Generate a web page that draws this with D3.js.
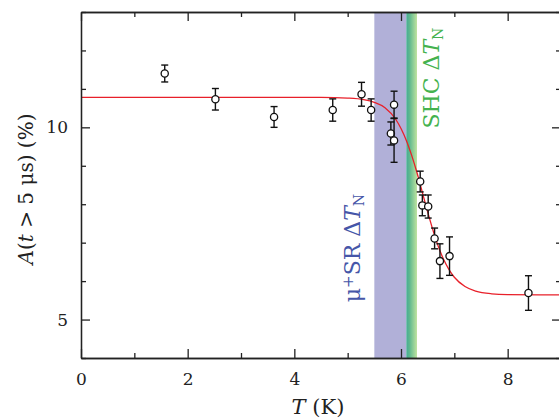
<!DOCTYPE html>
<html>
  <head>
    <meta charset="utf-8">
    <title>Asymmetry vs temperature</title>
    <script src="https://d3js.org/d3.v7.min.js"></script>
    <style>
      body { margin: 0; background: #fff; }
      svg text { font-family: "DejaVu Serif", "Liberation Serif", "Times New Roman", serif !important; }
      .axis path, .axis line { stroke: #222; stroke-width: 1.3; }
      .axis text { font-size: 17px; fill: #222; }
    </style>
  </head>
  <body>
    <div id="chart"></div>
    <script>
      // measured points: temperature (K), asymmetry (%), error (%)
      var temps = [1.57, 2.52, 3.62, 4.72, 5.26, 5.44, 5.87, 5.81, 5.87, 6.36, 6.40, 6.51, 6.63, 6.73, 6.91, 8.39];
      var asym  = [11.40, 10.73, 10.27, 10.45, 10.86, 10.45, 10.59, 9.84, 9.66, 8.59, 7.97, 7.94, 7.11, 6.52, 6.65, 5.69];
      var errs  = [0.22, 0.28, 0.27, 0.29, 0.31, 0.29, 0.35, 0.30, 0.57, 0.27, 0.27, 0.30, 0.27, 0.45, 0.50, 0.45];

      // fit curve
      var fitT = [0, 4.5, 5.0, 5.3, 5.5, 5.7, 5.9, 6.0, 6.1, 6.2, 6.3, 6.4, 6.5, 6.6, 6.7, 6.8, 6.9, 7.0, 7.2, 7.4, 7.7, 8.0, 9.0];
      var fitA = [10.78, 10.78, 10.76, 10.72, 10.65, 10.51, 10.21, 9.97, 9.66, 9.27, 8.82, 8.31, 7.80, 7.32, 6.90, 6.56, 6.30, 6.10, 5.86, 5.74, 5.67, 5.65, 5.64];

      // transition ranges (K)
      var muSRRange = [5.5, 6.1];
      var shcRange = [6.1, 6.3];

      var xMajor = [0, 2, 4, 6, 8];
      var xMinor = [1, 3, 5, 7, 9];
      var yMajor = [5, 10];
      var yMinor = [4, 6, 7, 8, 9, 11, 12, 13];

      var margin = { top: 12, right: 0, bottom: 60, left: 81 },
          width = 480,
          height = 346;

      var svg = d3.select("#chart")
                  .append("svg")
                  .attr("width", 559)
                  .attr("height", 418)
                  .append("g")
                  .attr("transform", "translate(" + margin.left + "," + margin.top + ")");

      var x = d3.scaleLinear().domain([0, 9]).range([0, width]);
      var y = d3.scaleLinear().domain([4, 13]).range([height, 0]);

      var defs = svg.append("defs");
      defs.append("clipPath").attr("id", "clip")
          .append("rect").attr("width", width).attr("height", height);
      var grad = defs.append("linearGradient").attr("id", "shc")
          .attr("x1", "0%").attr("x2", "100%");
      grad.append("stop").attr("offset", "0%").attr("stop-color", "#45ab95");
      grad.append("stop").attr("offset", "30%").attr("stop-color", "#5db88e");
      grad.append("stop").attr("offset", "100%").attr("stop-color", "#bfe3a0");

      var plot = svg.append("g").attr("clip-path", "url(#clip)");

      // transition bands
      plot.append("rect")
          .attr("x", x(muSRRange[0]))
          .attr("width", x(muSRRange[1]) - x(muSRRange[0]))
          .attr("y", 0).attr("height", height)
          .attr("fill", "#b1b0d8");
      plot.append("rect")
          .attr("x", x(shcRange[0]))
          .attr("width", x(shcRange[1]) - x(shcRange[0]))
          .attr("y", 0).attr("height", height)
          .attr("fill", "url(#shc)");

      // band labels
      var lab1 = svg.append("text")
          .attr("transform", "translate(" + (x(5.5) - 14) + "," + y(6.86) + ") rotate(-90)")
          .attr("text-anchor", "middle")
          .attr("fill", "#4656a8")
          .style("font-size", "22px");
      lab1.append("tspan").text("\u03bc");
      lab1.append("tspan").attr("baseline-shift", "45%").style("font-size", "15px").text("+");
      lab1.append("tspan").text("SR \u0394");
      lab1.append("tspan").style("font-style", "italic").text("T");
      lab1.append("tspan").attr("baseline-shift", "-25%").style("font-size", "14px").text("N");

      var lab2 = svg.append("text")
          .attr("transform", "translate(" + (x(6.3) + 22) + "," + y(11.28) + ") rotate(-90)")
          .attr("text-anchor", "middle")
          .attr("fill", "#44b24e")
          .style("font-size", "22px");
      lab2.append("tspan").text("SHC \u0394");
      lab2.append("tspan").style("font-style", "italic").text("T");
      lab2.append("tspan").attr("baseline-shift", "-25%").style("font-size", "14px").text("N");

      // fit curve
      var line = d3.line()
          .x(function(d, i) { return x(fitT[i]); })
          .y(function(d, i) { return y(fitA[i]); })
          .curve(d3.curveMonotoneX);
      plot.append("path")
          .datum(fitT)
          .attr("d", line)
          .attr("fill", "none")
          .attr("stroke", "#e8202a")
          .attr("stroke-width", 1.3);

      // error bars and points
      var pts = plot.selectAll(".pt")
          .data(temps)
          .enter()
          .append("g")
          .attr("class", "pt");
      pts.append("line")
         .attr("x1", function(d) { return x(d); })
         .attr("x2", function(d) { return x(d); })
         .attr("y1", function(d, i) { return y(asym[i] - errs[i]); })
         .attr("y2", function(d, i) { return y(asym[i] + errs[i]); });
      pts.append("line")
         .attr("x1", function(d) { return x(d) - 3.5; })
         .attr("x2", function(d) { return x(d) + 3.5; })
         .attr("y1", function(d, i) { return y(asym[i] - errs[i]); })
         .attr("y2", function(d, i) { return y(asym[i] - errs[i]); });
      pts.append("line")
         .attr("x1", function(d) { return x(d) - 3.5; })
         .attr("x2", function(d) { return x(d) + 3.5; })
         .attr("y1", function(d, i) { return y(asym[i] + errs[i]); })
         .attr("y2", function(d, i) { return y(asym[i] + errs[i]); });
      pts.selectAll("line")
         .attr("stroke", "#111")
         .attr("stroke-width", 1.4);
      pts.append("circle")
         .attr("cx", function(d) { return x(d); })
         .attr("cy", function(d, i) { return y(asym[i]); })
         .attr("r", 3.6)
         .attr("fill", "#fff")
         .attr("stroke", "#111")
         .attr("stroke-width", 1.3);

      // axes
      svg.append("g").attr("class", "axis")
         .attr("transform", "translate(0," + height + ")")
         .call(d3.axisBottom(x).tickValues(xMajor).tickSize(-9).tickSizeOuter(0).tickPadding(15).tickFormat(d3.format("d")));
      svg.append("g").attr("class", "axis")
         .attr("transform", "translate(0," + height + ")")
         .call(d3.axisBottom(x).tickValues(xMinor).tickSize(-5).tickSizeOuter(0).tickFormat(""));
      svg.append("g").attr("class", "axis")
         .call(d3.axisTop(x).tickValues(xMajor).tickSize(-9).tickSizeOuter(0).tickFormat(""));
      svg.append("g").attr("class", "axis")
         .call(d3.axisTop(x).tickValues(xMinor).tickSize(-5).tickSizeOuter(0).tickFormat(""));
      svg.append("g").attr("class", "axis")
         .call(d3.axisLeft(y).tickValues(yMajor).tickSize(-9).tickSizeOuter(0).tickPadding(13).tickFormat(d3.format("d")));
      svg.append("g").attr("class", "axis")
         .call(d3.axisLeft(y).tickValues(yMinor).tickSize(-5).tickSizeOuter(0).tickFormat(""));
      svg.append("g").attr("class", "axis")
         .attr("transform", "translate(" + width + ",0)")
         .call(d3.axisRight(y).tickValues(yMajor).tickSize(-9).tickSizeOuter(0).tickFormat(""));
      svg.append("g").attr("class", "axis")
         .attr("transform", "translate(" + width + ",0)")
         .call(d3.axisRight(y).tickValues(yMinor).tickSize(-5).tickSizeOuter(0).tickFormat(""));

      // axis labels
      var xl = svg.append("text")
         .attr("x", width * 0.5 - 3)
         .attr("y", height + 56)
         .attr("text-anchor", "middle")
         .style("font-size", "21px")
         .attr("fill", "#222");
      xl.append("tspan").style("font-style", "italic").text("T");
      xl.append("tspan").text(" (K)");

      var yl = svg.append("text")
         .attr("transform", "translate(" + (-margin.left + 33) + "," + (height / 2 + 4) + ") rotate(-90)")
         .attr("text-anchor", "middle")
         .style("font-size", "20px")
         .attr("fill", "#222");
      yl.append("tspan").style("font-style", "italic").text("A");
      yl.append("tspan").text("(");
      yl.append("tspan").style("font-style", "italic").text("t");
      yl.append("tspan").text(" > 5 \u03bcs) (%)");
    </script>
  </body>
</html>
